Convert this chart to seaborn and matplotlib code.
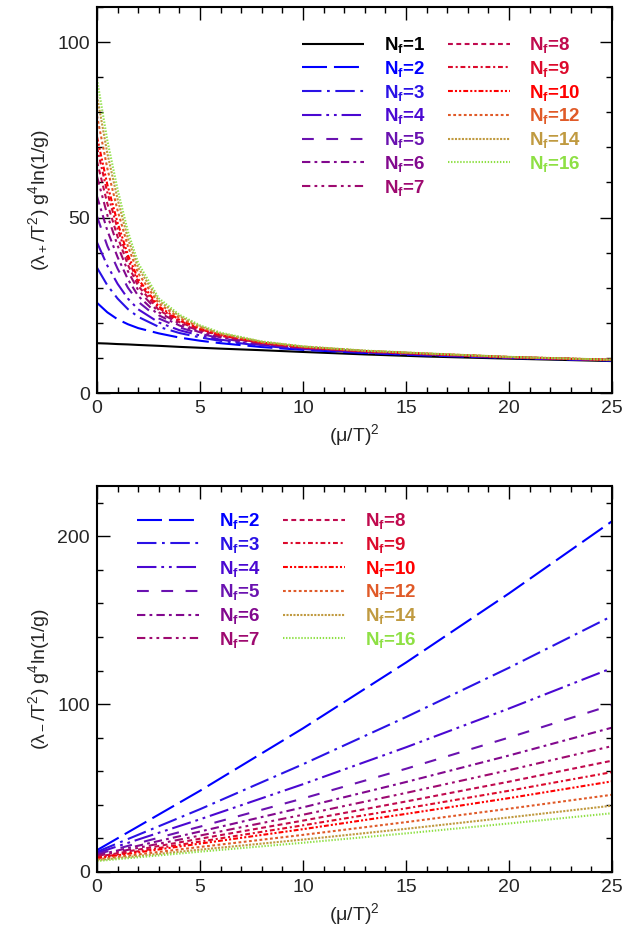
import numpy as np
import pandas as pd
import matplotlib
matplotlib.use("Agg")
import matplotlib.pyplot as plt
from matplotlib.ticker import MultipleLocator
import seaborn as sns

# x grid, (mu/T)^2
X_UP = [0, 0.5, 1, 1.5, 2, 3, 4, 5, 6, 8, 10, 13, 16, 20, 25]

# lambda_+ curves
LAM_PLUS = {
    1: [14.2, 14.1, 13.95, 13.85, 13.7, 13.45, 13.15, 12.9, 12.65, 12.2, 11.7, 11.0, 10.4, 9.8, 9.1],
    2: [25.7, 23.0, 21.0, 19.6, 18.5, 17.0, 15.8, 14.9, 14.2, 13.1, 12.3, 11.4, 10.7, 10.0, 9.25],
    3: [35.7, 30.7, 26.9, 23.9, 21.7, 18.85, 17.1, 15.85, 14.85, 13.45, 12.5, 11.55, 10.85, 10.05, 9.3],
    4: [42.9, 36.3, 31.1, 26.9, 23.85, 20.1, 17.9, 16.4, 15.2, 13.65, 12.65, 11.65, 10.95, 10.1, 9.35],
    5: [50.3, 41.9, 35.4, 30.0, 26.0, 21.25, 18.7, 16.9, 15.6, 13.85, 12.8, 11.75, 11.0, 10.15, 9.38],
    6: [56.0, 46.3, 38.7, 32.4, 27.65, 22.15, 19.25, 17.3, 15.85, 14.0, 12.85, 11.8, 11.05, 10.15, 9.4],
    7: [61.7, 50.7, 42.0, 34.7, 29.3, 23.0, 19.8, 17.7, 16.1, 14.15, 12.95, 11.85, 11.1, 10.2, 9.42],
    8: [66.0, 54.0, 44.5, 36.5, 30.5, 23.65, 20.2, 17.95, 16.3, 14.25, 13.0, 11.9, 11.15, 10.2, 9.43],
    9: [70.0, 57.1, 46.8, 38.1, 31.6, 24.2, 20.6, 18.2, 16.45, 14.3, 13.05, 11.95, 11.15, 10.25, 9.44],
    10: [73.0, 59.4, 48.5, 39.3, 32.45, 24.65, 20.85, 18.35, 16.55, 14.4, 13.1, 11.95, 11.2, 10.25, 9.45],
    12: [79.0, 64.0, 52.0, 41.8, 34.1, 25.5, 21.4, 18.7, 16.8, 14.5, 13.2, 12.0, 11.25, 10.25, 9.47],
    14: [84.6, 68.3, 55.2, 44.0, 35.7, 26.3, 21.9, 19.0, 17.0, 14.6, 13.25, 12.05, 11.25, 10.3, 9.49],
    16: [89.4, 72.0, 58.0, 46.0, 37.0, 27.0, 22.3, 19.3, 17.2, 14.7, 13.3, 12.1, 11.3, 10.3, 9.5],
}

# lambda_- lines (lower panel)
X_LO = [0, 5, 10, 15, 20, 25]
LAM_MINUS = {
    2: [13.0, 48.4, 85.6, 124.8, 166.0, 209.0],
    3: [12.0, 37.4, 64.2, 92.3, 121.7, 152.5],
    4: [11.3, 31.4, 52.3, 74.3, 97.4, 121.5],
    5: [10.6, 27.0, 43.8, 61.5, 80.1, 99.5],
    6: [10.0, 24.1, 38.5, 53.6, 69.4, 86.0],
    7: [9.5, 21.7, 34.1, 47.1, 60.7, 75.0],
    8: [9.0, 19.8, 30.6, 42.0, 53.8, 66.3],
    9: [8.5, 18.1, 27.8, 37.9, 48.4, 59.5],
    10: [8.2, 16.9, 25.5, 34.6, 44.0, 54.0],
    12: [7.5, 14.9, 22.1, 29.7, 37.7, 46.0],
    14: [7.0, 13.3, 19.3, 25.7, 32.5, 39.5],
    16: [6.5, 12.1, 17.4, 23.0, 28.9, 35.0],
}

COLORS = {
    1: "#000000", 2: "#0000ff", 3: "#2a12e6", 4: "#4a08d2", 5: "#6a12b0",
    6: "#82088e", 7: "#9e0a70", 8: "#c00a4e", 9: "#dc0a2c", 10: "#ff0000",
    12: "#e05a28", 14: "#c09a40", 16: "#8ee044",
}
# dash patterns in points (xmgrace-like)
DASHES = {
    1: (0, ()),
    2: (0, (18, 5)),
    3: (0, (14, 4, 2, 4)),
    4: (0, (14, 3.5, 2, 3.5, 2, 3.5)),
    5: (0, (8.5, 9)),
    6: (0, (6, 3, 2, 3)),
    7: (0, (6, 3, 2, 3, 2, 3)),
    8: (0, (3.5, 2.5)),
    9: (0, (3.5, 2, 1.5, 2)),
    10: (0, (3.5, 1.5, 1.5, 1.5, 1.5, 1.5)),
    12: (0, (2, 1.8)),
    14: (0, (1.5, 1)),
    16: (0, (1, 1.2)),
}

sns.set_style("ticks")
plt.rcParams["font.family"] = ["Liberation Sans", "DejaVu Sans"]
plt.rcParams["mathtext.fontset"] = "custom"
plt.rcParams["mathtext.rm"] = "Liberation Sans"
plt.rcParams["mathtext.it"] = "Liberation Sans:italic"
plt.rcParams["mathtext.bf"] = "Liberation Sans:bold"
plt.rcParams["lines.scale_dashes"] = False


def style_axes(ax, ymax, ymajor, yminor):
    ax.set_xlim(0, 25)
    ax.set_ylim(0, ymax)
    ax.xaxis.set_major_locator(MultipleLocator(5))
    ax.xaxis.set_minor_locator(MultipleLocator(1))
    ax.yaxis.set_major_locator(MultipleLocator(ymajor))
    ax.yaxis.set_minor_locator(MultipleLocator(yminor))
    ax.tick_params(which="both", direction="in", top=True, right=True,
                   labelsize=14, color="black", width=1.0)
    ax.tick_params(which="major", length=9, pad=5)
    ax.tick_params(which="minor", length=4.5)
    for sp in ax.spines.values():
        sp.set_linewidth(1.5)
        sp.set_color("black")
    ax.set_xlabel("(μ/T)$^2$", fontsize=14, labelpad=4)


def draw(ax, xs, table):
    for nf, ys in table.items():
        df = pd.DataFrame({"x": xs, "y": ys})
        sns.lineplot(data=df, x="x", y="y", ax=ax, color=COLORS[nf],
                     linestyle=DASHES[nf], linewidth=1.5,
                     label=r"N$_{\mathbf{f}}$=%d" % nf)


fig = plt.figure(figsize=(6.22, 9.38), dpi=100)
ax1 = fig.add_axes([0.156, 0.581, 0.828, 0.4115])
ax2 = fig.add_axes([0.156, 0.0704, 0.828, 0.4115])

draw(ax1, X_UP, LAM_PLUS)
style_axes(ax1, 110, 50, 10)
ax1.set_ylabel("(λ$_+$/T$^2$) g$^4$ln(1/g)", fontsize=14)

draw(ax2, X_LO, LAM_MINUS)
style_axes(ax2, 230, 100, 20)
ax2.set_ylabel("(λ$_-$/T$^2$) g$^4$ln(1/g)", fontsize=14)

for ax, anchor in ((ax1, (0.398, 0.927)), (ax2, (0.078, 0.935))):
    leg = ax.legend(loc="upper left", bbox_to_anchor=anchor, ncol=2,
                    frameon=False, borderpad=0, borderaxespad=0,
                    handlelength=3.3, handletextpad=1.05, columnspacing=1.2,
                    labelspacing=0.2, labelcolor="linecolor",
                    prop={"weight": "bold", "size": 13.5})

fig.savefig("out.png", dpi=100)
